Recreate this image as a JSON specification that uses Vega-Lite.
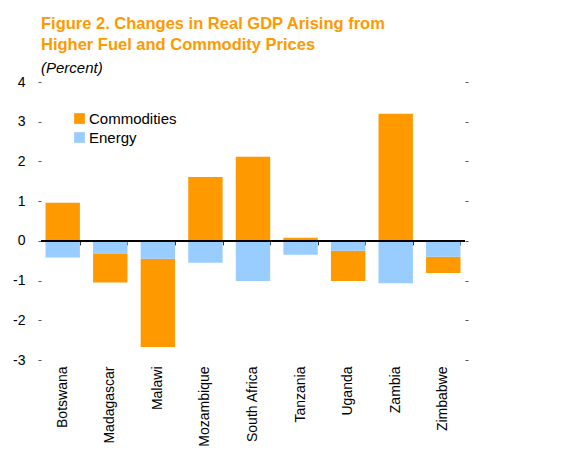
{
  "$schema": "https://vega.github.io/schema/vega-lite/v6.json",
  "width": 424,
  "height": 278,
  "autosize": "none",
  "padding": {"left": 41, "top": 82, "right": 98, "bottom": 102},
  "background": "white",
  "config": {"view": {"stroke": null}, "font": "Liberation Sans"},
  "title": {
    "text": ["Figure 2. Changes in Real GDP Arising from", "Higher Fuel and Commodity Prices"],
    "subtitle": "(Percent)",
    "anchor": "start",
    "frame": "group",
    "font": "Liberation Sans",
    "fontSize": 16.5,
    "fontWeight": "bold",
    "color": "#FF9900",
    "lineHeight": 21,
    "subtitleFont": "Liberation Sans",
    "subtitleFontSize": 15,
    "subtitleFontStyle": "italic",
    "subtitleColor": "black",
    "subtitlePadding": 8,
    "offset": -1
  },
  "data": {
    "values": [
      {"country": "Botswana", "series": "Commodities", "value": 0.96},
      {"country": "Botswana", "series": "Energy", "value": -0.42},
      {"country": "Madagascar", "series": "Commodities", "value": -0.72},
      {"country": "Madagascar", "series": "Energy", "value": -0.33},
      {"country": "Malawi", "series": "Commodities", "value": -2.22},
      {"country": "Malawi", "series": "Energy", "value": -0.45},
      {"country": "Mozambique", "series": "Commodities", "value": 1.61},
      {"country": "Mozambique", "series": "Energy", "value": -0.55},
      {"country": "South Africa", "series": "Commodities", "value": 2.12},
      {"country": "South Africa", "series": "Energy", "value": -1.01},
      {"country": "Tanzania", "series": "Commodities", "value": 0.08},
      {"country": "Tanzania", "series": "Energy", "value": -0.35},
      {"country": "Uganda", "series": "Commodities", "value": -0.76},
      {"country": "Uganda", "series": "Energy", "value": -0.25},
      {"country": "Zambia", "series": "Commodities", "value": 3.2},
      {"country": "Zambia", "series": "Energy", "value": -1.07},
      {"country": "Zimbabwe", "series": "Commodities", "value": -0.41},
      {"country": "Zimbabwe", "series": "Energy", "value": -0.4}
    ]
  },
  "layer": [
    {
      "mark": {"type": "bar"},
      "encoding": {
        "x": {
          "field": "country", "type": "nominal", "sort": null,
          "scale": {"paddingInner": 0.277, "paddingOuter": 0.095},
          "axis": {
            "title": null, "orient": "bottom", "labelAngle": -90, "labelAlign": "right",
            "labelBaseline": "middle", "ticks": false, "tickSize": 0, "domain": false,
            "labelPadding": 6, "labelFontSize": 14, "labelColor": "black", "labelFont": "Liberation Sans"
          }
        },
        "y": {
          "field": "value", "type": "quantitative", "stack": "zero",
          "scale": {"domain": [-3, 4], "nice": false, "zero": false},
          "axis": {
            "title": null, "orient": "left", "values": [-3, -2, -1, 0, 1, 2, 3, 4], "grid": false,
            "domain": false, "tickSize": 3, "tickColor": "#555", "labelPadding": 13,
            "labelFontSize": 14, "labelColor": "black", "labelFont": "Liberation Sans", "labelFlush": false,
            "labelExpr": "'' + datum.value"
          }
        },
        "color": {
          "field": "series", "type": "nominal",
          "scale": {"domain": ["Commodities", "Energy"], "range": ["#FF9900", "#99CCFF"]},
          "legend": {
            "title": null, "orient": "none", "legendX": 31, "legendY": 29,
            "symbolType": "square", "symbolSize": 115, "symbolStrokeWidth": 0, "symbolOpacity": 1,
            "labelFontSize": 15, "labelFont": "Liberation Sans", "labelColor": "black",
            "padding": 0, "rowPadding": 3, "labelOffset": 2
          }
        },
        "order": {"field": "series", "sort": "descending"}
      }
    },
    {
      "mark": {"type": "bar", "opacity": 0},
      "encoding": {
        "x": {
          "field": "country", "type": "nominal", "sort": null,
          "axis": {
            "title": null, "orient": "bottom", "offset": -119.1, "labels": false, "domain": false,
            "ticks": true, "tickBand": "extent", "tickSize": 4, "tickColor": "#333", "tickWidth": 1
          }
        },
        "y": {
          "field": "value", "type": "quantitative", "stack": "zero",
          "axis": {
            "title": null, "orient": "right", "values": [-3, -2, -1, 0, 1, 2, 3, 4], "grid": false,
            "domain": false, "labels": false, "tickSize": 3, "tickColor": "#555"
          }
        },
        "order": {"field": "series", "sort": "descending"}
      }
    },
    {
      "mark": {"type": "rule", "color": "black", "strokeWidth": 1.5},
      "encoding": {"y": {"datum": 0, "type": "quantitative", "axis": null}}
    }
  ],
  "resolve": {"axis": {"x": "independent", "y": "independent"}}
}
